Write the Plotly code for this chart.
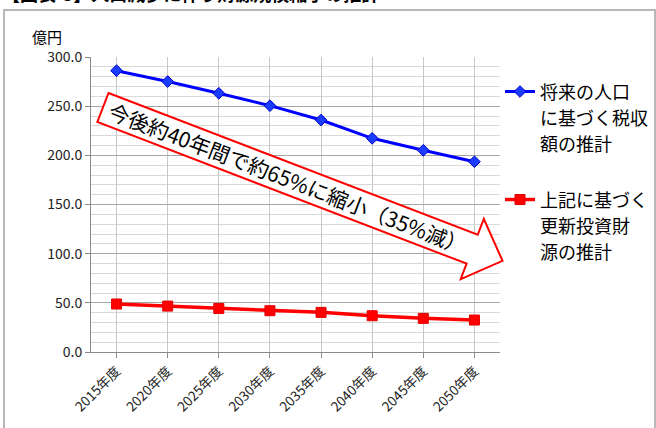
import math
import plotly.graph_objects as go

categories = ["2015年度", "2020年度", "2025年度", "2030年度", "2035年度", "2040年度", "2045年度", "2050年度"]
tax_revenue = [286.1, 275.0, 263.1, 250.5, 235.9, 217.3, 205.1, 193.5]
investment = [48.8, 46.7, 44.3, 42.0, 40.3, 36.9, 34.2, 32.5]
series_lines = [["将来の人口", "に基づく税収", "額の推計"], ["上記に基づく", "更新投資財", "源の推計"]]
y_ticks = [0, 50, 100, 150, 200, 250, 300]
title_text = "【図表-5】人口減少に伴う財源規模縮小の推計"
unit_text = "億円"
arrow_text = "今後約40年間で約65%に縮小（35%減）"

W, H = 656, 428
L, R, T, B = 91, 156, 57, 76
PW, PH = W - L - R, H - T - B

def px(x):
    return (x - L) / PW

def py(y):
    return (H - B - y) / PH

FONT = "Noto Sans CJK JP, Noto Sans, sans-serif"

def legend_name(lines):
    return "<br>".join(f'<span style="font-size:18px">{s}</span>' for s in lines)

fig = go.Figure()
fig.add_trace(go.Scatter(
    x=categories, y=tax_revenue, name=legend_name(series_lines[0]), mode="lines+markers",
    line=dict(color="#0000ff", width=3),
    marker=dict(symbol="diamond", size=9, color="#1a3cff", line=dict(color="#0000cc", width=1)),
    legendgroup="a",
))
fig.add_trace(go.Scatter(
    x=categories, y=investment, name=legend_name(series_lines[1]), mode="lines+markers",
    line=dict(color="#ff0000", width=3.5),
    marker=dict(symbol="square", size=10, color="#ff0000", line=dict(color="#e00000", width=1)),
    legendgroup="b",
))

# outer chart border
fig.add_shape(type="rect", xref="paper", yref="paper",
              x0=px(4), x1=px(655), y0=py(440), y1=py(10),
              line=dict(color="#b8b8b8", width=2), fillcolor="rgba(0,0,0,0)", layer="below")

# big arrow
a = math.radians(21)
U = (math.cos(a), math.sin(a))
V = (-math.sin(a), math.cos(a))
P0 = (108.5, 93.0)
uv = [(0, 0), (395.5, 0), (395.5, -17), (428, 15.5), (395.5, 47.5), (395.5, 31), (0, 31)]
pts = []
for u, v in uv:
    X = P0[0] + u * U[0] + v * V[0]
    Y = P0[1] + u * U[1] + v * V[1]
    pts.append((px(X), py(Y)))
path = "M " + " L ".join(f"{x:.5f},{y:.5f}" for x, y in pts) + " Z"
fig.add_shape(type="path", xref="paper", yref="paper", path=path,
              fillcolor="white", line=dict(color="#ff0000", width=2), layer="above")

cu, cv = 198, 15.5
cx = P0[0] + cu * U[0] + cv * V[0]
cy = P0[1] + cu * U[1] + cv * V[1]
fig.add_annotation(text=arrow_text, xref="paper", yref="paper", x=px(cx), y=py(cy),
                   showarrow=False, textangle=21, font=dict(size=21, color="black", family=FONT),
                   xanchor="center", yanchor="middle")

fig.add_annotation(text=unit_text, xref="paper", yref="paper", x=px(47), y=py(37),
                   showarrow=False, font=dict(size=15, color="black", family=FONT),
                   xanchor="center", yanchor="middle")

fig.add_annotation(text="<b>" + title_text + "</b>", xref="paper", yref="paper", x=px(0), y=py(8),
                   showarrow=False, font=dict(size=18, color="black", family=FONT),
                   xanchor="left", yanchor="bottom")

fig.update_layout(
    width=W, height=H,
    margin=dict(l=L, r=R, t=T, b=B, autoexpand=False),
    paper_bgcolor="white", plot_bgcolor="white",
    font=dict(family=FONT, color="black"),
    showlegend=True,
    legend=dict(x=px(500), y=py(72), xanchor="left", yanchor="top",
                font=dict(size=20, color="black", family=FONT),
                valign="top", tracegroupgap=27, bgcolor="rgba(0,0,0,0)"),
)
fig.update_xaxes(
    type="category", range=[-0.5, len(categories) - 0.5],
    showline=True, linecolor="#8c8c8c", linewidth=1,
    showgrid=True, gridcolor="#c8c8c8", gridwidth=1,
    ticks="outside", ticklen=5, tickcolor="#8c8c8c",
    tickangle=-45, tickfont=dict(size=13.5, color="#222", family=FONT),
    zeroline=False,
)
fig.update_yaxes(
    range=[0, 300], tickvals=y_ticks, tickformat=".1f",
    showline=True, linecolor="#8c8c8c", linewidth=1,
    showgrid=True, gridcolor="#a6a6a6", gridwidth=1,
    minor=dict(dtick=10, showgrid=True, gridcolor="#d9d9d9", gridwidth=1),
    ticks="outside", ticklen=5, tickcolor="#8c8c8c",
    tickfont=dict(size=14, color="#222", family=FONT),
    zeroline=False,
)

fig.write_html("out.html")
